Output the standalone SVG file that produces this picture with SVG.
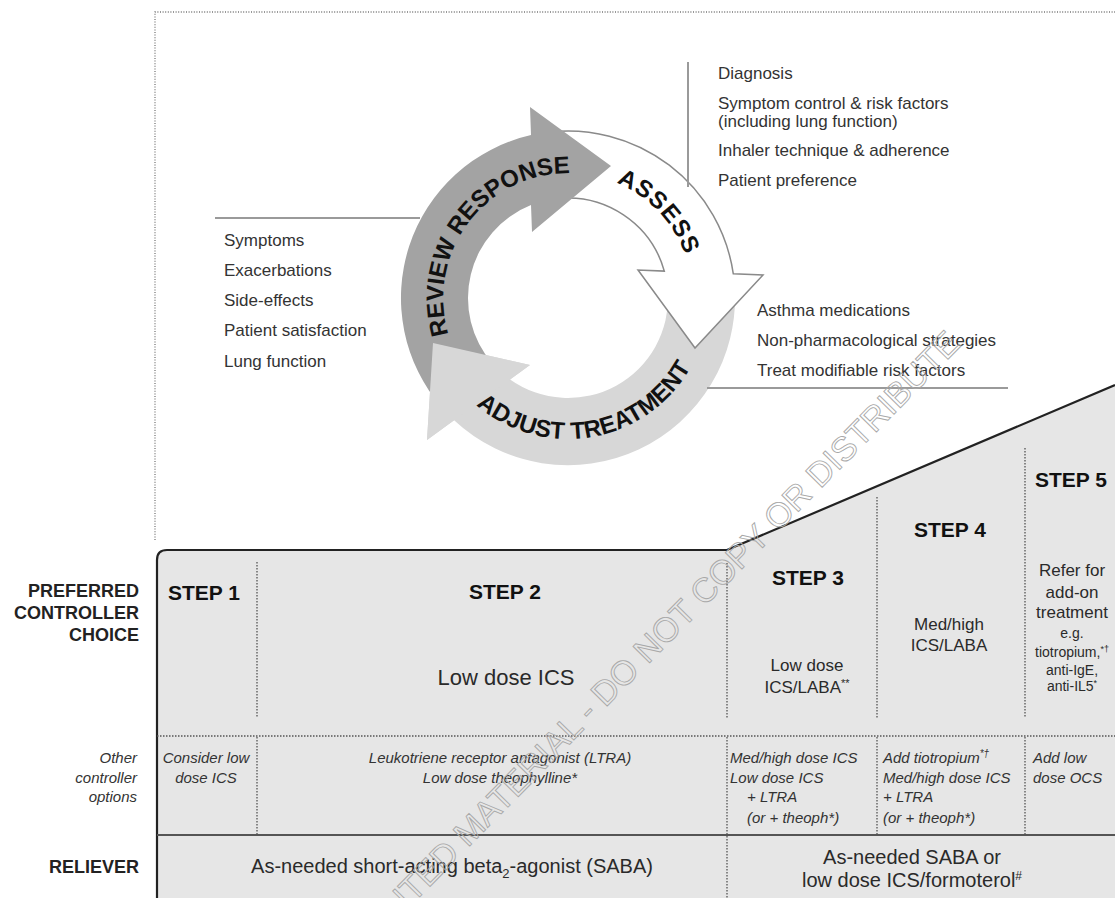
<svg xmlns="http://www.w3.org/2000/svg" width="1115" height="898" viewBox="0 0 1115 898">
<style>
text{font-family:"Liberation Sans",Arial,sans-serif;fill:#2a2a2a}
.lst{font-size:17px;fill:#333}
.lbl{font-size:18px;font-weight:bold;text-anchor:end;fill:#222}
.oth{font-size:15px;font-style:italic;fill:#333}
.othl{font-size:15px;font-style:italic;text-anchor:end;fill:#333}
.step{font-size:21px;font-weight:bold;fill:#111}
.mid{text-anchor:middle}
.body17{font-size:17px}
.body14{font-size:14px}
.cyc{font-size:24px;font-weight:bold;fill:#111}
.dot{stroke:#555;stroke-width:1.3;stroke-dasharray:1.5 1.5;fill:none}
.gline{stroke:#9a9a9a;stroke-width:2;fill:none}
</style>
<rect width="1115" height="898" fill="#fff"/>
<g id="frame">
<path d="M155,540 L155,12 L1115,12" fill="none" stroke="#777" stroke-width="1.3" stroke-dasharray="1 1.6"/>
</g>
<g id="cycle">
<path id="arrow-adjust" d="M734.8,289.3 A167,167 0 0 1 454.1,420.3 L427,440 L433,343 L530,365 L510.1,379.5 A100,100 0 0 0 667.9,292.8 Z" fill="#d7d7d7"/>
<path id="arrow-assess" d="M547.6,132.3 A167,167 0 0 1 733.3,273.8 L763,275 L695,348 L638,270 L664.3,271.1 A100,100 0 0 0 555.8,198.7 Z" fill="#fff" stroke="#8a8a8a" stroke-width="1.5" stroke-linejoin="miter"/>
<path id="arrow-review" d="M442,407.6 A167,167 0 0 1 531,135.1 L530,107 L611,166 L532,232 L531,205.1 A100,100 0 0 0 492.5,363.6 Z" fill="#a3a3a3"/>
<polygon points="427,440 433,343 530,365" fill="#d7d7d7"/>
<path id="tp-review" d="M484.4,390.9 A125,125 0 0 1 634.2,192" fill="none"/>
<path id="tp-assess" d="M578.9,173.5 A125,125 0 0 1 693,293.6" fill="none"/>
<path id="tp-adjust" d="M435.5,346.2 A141,141 0 0 0 709,298" fill="none"/>
<text class="cyc"><textPath href="#tp-review" startOffset="50%" text-anchor="middle">REVIEW RESPONSE</textPath></text>
<text class="cyc" letter-spacing="1"><textPath href="#tp-assess" startOffset="50%" text-anchor="middle">ASSESS</textPath></text>
<text class="cyc"><textPath href="#tp-adjust" startOffset="50%" text-anchor="middle">ADJUST TREATMENT</textPath></text>
</g>
<g id="review-list">
<line class="gline" x1="215" y1="218" x2="420" y2="218"/>
<text class="lst" x="224" y="246">Symptoms</text>
<text class="lst" x="224" y="276">Exacerbations</text>
<text class="lst" x="224" y="306">Side-effects</text>
<text class="lst" x="224" y="336">Patient satisfaction</text>
<text class="lst" x="224" y="367">Lung function</text>
</g>
<g id="assess-list">
<line class="gline" x1="688" y1="62" x2="688" y2="187"/>
<text class="lst" x="718" y="79">Diagnosis</text>
<text class="lst" x="718" y="109">Symptom control &amp; risk factors</text>
<text class="lst" x="718" y="127">(including lung function)</text>
<text class="lst" x="718" y="156">Inhaler technique &amp; adherence</text>
<text class="lst" x="718" y="186">Patient preference</text>
</g>
<g id="adjust-list">
<line class="gline" x1="707" y1="388" x2="1008" y2="388"/>
<text class="lst" x="757" y="316">Asthma medications</text>
<text class="lst" x="757" y="346">Non-pharmacological strategies</text>
<text class="lst" x="757" y="376">Treat modifiable risk factors</text>
</g>
<g id="table">
<path d="M157,898 L157,560 Q157,550 167,550 L727,550 L1115,385 L1115,898 Z" fill="#e6e6e6"/>
<path d="M157,898 L157,560 Q157,550 167,550 L727,550 L1115,385" fill="none" stroke="#222" stroke-width="2.2"/>
<line x1="157" y1="835" x2="1115" y2="835" stroke="#555" stroke-width="2"/>
<line class="dot" x1="157" y1="736" x2="1115" y2="736"/>
<line class="dot" x1="257" y1="562" x2="257" y2="718"/>
<line class="dot" x1="257" y1="737" x2="257" y2="835"/>
<line class="dot" x1="727" y1="563" x2="727" y2="718"/>
<line class="dot" x1="727" y1="737" x2="727" y2="898"/>
<line class="dot" x1="877" y1="497" x2="877" y2="718"/>
<line class="dot" x1="877" y1="737" x2="877" y2="835"/>
<line class="dot" x1="1025" y1="448" x2="1025" y2="718"/>
<line class="dot" x1="1025" y1="737" x2="1025" y2="835"/>
</g>
<g id="row-labels">
<text class="lbl" x="139" y="597">PREFERRED</text>
<text class="lbl" x="139" y="619">CONTROLLER</text>
<text class="lbl" x="139" y="641">CHOICE</text>
<text class="othl" x="137" y="763">Other</text>
<text class="othl" x="137" y="783">controller</text>
<text class="othl" x="137" y="802">options</text>
<text class="lbl" x="139" y="873">RELIEVER</text>
</g>
<g id="step1">
<text class="step" x="168" y="600">STEP 1</text>
<text class="oth mid" x="206" y="763">Consider low</text>
<text class="oth mid" x="206" y="783">dose ICS</text>
</g>
<g id="step2">
<text class="step mid" x="505" y="599">STEP 2</text>
<text class="mid" x="506" y="685" font-size="22">Low dose ICS</text>
<text class="oth mid" x="500" y="763">Leukotriene receptor antagonist (LTRA)</text>
<text class="oth mid" x="500" y="783">Low dose theophylline*</text>
</g>
<g id="step3">
<text class="step mid" x="808" y="585">STEP 3</text>
<text class="body17 mid" x="807" y="671">Low dose</text>
<text class="body17 mid" x="807" y="693">ICS/LABA<tspan font-size="11" dy="-6">**</tspan></text>
<text class="oth" x="730" y="763">Med/high dose ICS</text>
<text class="oth" x="730" y="783">Low dose ICS</text>
<text class="oth" x="747" y="802">+ LTRA</text>
<text class="oth" x="747" y="823">(or + theoph*)</text>
</g>
<g id="step4">
<text class="step mid" x="950" y="537">STEP 4</text>
<text class="body17 mid" x="949" y="630">Med/high</text>
<text class="body17 mid" x="949" y="651">ICS/LABA</text>
<text class="oth" x="883" y="763">Add tiotropium<tspan font-size="10" dy="-6">*†</tspan></text>
<text class="oth" x="883" y="783">Med/high dose ICS</text>
<text class="oth" x="883" y="802">+ LTRA</text>
<text class="oth" x="883" y="823">(or + theoph*)</text>
</g>
<g id="step5">
<text class="step mid" x="1071" y="487">STEP 5</text>
<text class="body17 mid" x="1072" y="576">Refer for</text>
<text class="body17 mid" x="1072" y="598">add-on</text>
<text class="body17 mid" x="1072" y="618">treatment</text>
<text class="body14 mid" x="1072" y="638">e.g.</text>
<text class="body14 mid" x="1072" y="657">tiotropium,<tspan font-size="9" dy="-5">*†</tspan></text>
<text class="body14 mid" x="1072" y="675">anti-IgE,</text>
<text class="body14 mid" x="1072" y="691">anti-IL5<tspan font-size="9" dy="-5">*</tspan></text>
<text class="oth" x="1033" y="763">Add low</text>
<text class="oth" x="1033" y="783">dose OCS</text>
</g>
<g id="relievers">
<text class="mid" x="452" y="873" font-size="20">As-needed short-acting beta<tspan font-size="13" dy="5">2</tspan><tspan dy="-5">-agonist (SABA)</tspan></text>
<text class="mid" x="912" y="864" font-size="20">As-needed SABA or</text>
<text class="mid" x="912" y="887" font-size="20">low dose ICS/formoterol<tspan font-size="12" dy="-7">#</tspan></text>
</g>
<g id="watermark">
<text x="962" y="345" font-size="34" text-anchor="end" transform="rotate(-45.5 962 345)" style="fill:none;stroke:#a8a8a8;stroke-width:0.9">COPYRIGHTED MATERIAL - DO NOT COPY OR DISTRIBUTE</text>
</g>
</svg>
